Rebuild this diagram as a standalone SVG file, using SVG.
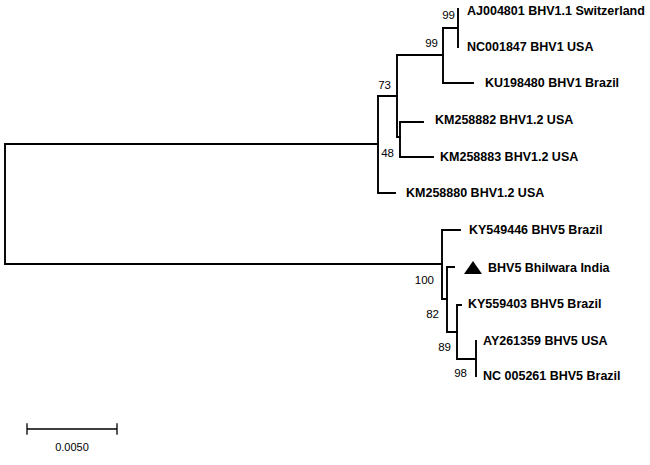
<svg xmlns="http://www.w3.org/2000/svg" width="650" height="465" viewBox="0 0 650 465">
<style>
.br{fill:none;stroke:#000;stroke-width:1.9;stroke-linecap:square}
.lb{font-family:"Liberation Sans",Arial,sans-serif;font-size:12.5px;font-weight:bold;fill:#000}
.bs{font-family:"Liberation Sans",Arial,sans-serif;font-size:11.5px;fill:#000;text-anchor:end}
.sc{font-family:"Liberation Sans",Arial,sans-serif;font-size:11px;fill:#000;text-anchor:middle}
</style>
<rect width="650" height="465" fill="#fff"/>
<g id="connectors">
<path class="br" d="M378,144 H5 V264 H442"/>
<path class="br" d="M378,96 V193 H395"/>
<path class="br" d="M378,96 H397 V137 H400"/>
<path class="br" d="M397,55 V96"/>
<path class="br" d="M397,55 H443 V83 H473"/>
<path class="br" d="M443,28 V55"/>
<path class="br" d="M443,28 H458 M458,9 V47"/>
<path class="br" d="M400,122 V157 M400,122 H423 M400,157 H433"/>
<path class="br" d="M442,230 V299 M442,230 H460 M442,299 H447"/>
<path class="br" d="M447,267 V332 M447,267 H454 M447,332 H457"/>
<path class="br" d="M457,305 V359 M457,305 H461 M457,359 H476 M476,341 V376"/>
</g>
<g id="n_AJ004801"><text class="lb" x="467" y="15">AJ004801 BHV1.1 Switzerland</text></g>
<g id="n_NC001847"><text class="lb" x="467" y="51">NC001847 BHV1 USA</text></g>
<g id="n_KU198480"><text class="lb" x="485" y="87">KU198480 BHV1 Brazil</text></g>
<g id="n_KM258882"><text class="lb" x="435" y="124">KM258882 BHV1.2 USA</text></g>
<g id="n_KM258883"><text class="lb" x="440" y="161">KM258883 BHV1.2 USA</text></g>
<g id="n_KM258880"><text class="lb" x="406" y="197">KM258880 BHV1.2 USA</text></g>
<g id="n_KY549446"><text class="lb" x="469" y="234">KY549446 BHV5 Brazil</text></g>
<g id="n_Bhilwara"><polygon points="473,261 464,274 482,274" fill="#000"/><text class="lb" x="488" y="272">BHV5 Bhilwara India</text></g>
<g id="n_KY559403"><text class="lb" x="468" y="308">KY559403 BHV5 Brazil</text></g>
<g id="n_AY261359"><text class="lb" x="483" y="345">AY261359 BHV5 USA</text></g>
<g id="n_NC005261"><text class="lb" x="483" y="380">NC 005261 BHV5 Brazil</text></g>
<g id="bootstrap">
<text class="bs" x="455" y="19">99</text>
<text class="bs" x="438" y="47">99</text>
<text class="bs" x="391" y="89">73</text>
<text class="bs" x="394" y="157">48</text>
<text class="bs" x="434" y="284">100</text>
<text class="bs" x="439" y="318">82</text>
<text class="bs" x="451" y="351">89</text>
<text class="bs" x="467" y="377">98</text>
</g>
<g id="scale">
<path class="br" d="M27,429 H117 M27,424 V434 M117,424 V434" style="stroke-width:1.3"/>
<text class="sc" x="72" y="451">0.0050</text>
</g>
</svg>
